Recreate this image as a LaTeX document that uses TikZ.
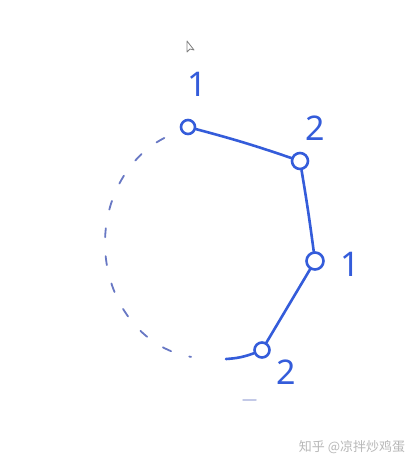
\documentclass[tikz,border=0pt]{standalone}
\usepackage{fontspec}
\setmainfont{Noto Sans}
\newfontfamily\cjk{Noto Sans CJK SC}
\definecolor{inkblue}{RGB}{52,92,218}
\definecolor{paleblue}{RGB}{104,120,196}
\begin{document}
\begin{tikzpicture}[x=1pt, y=-1pt, line join=round, line cap=round, >=stealth,
	vert/.style={draw=inkblue, line width=2.6pt, circle, minimum size=16pt, inner sep=0pt},
	edge/.style={draw=inkblue, line width=2.6pt},
	num/.style={text=inkblue, font=\fontsize{34}{34}\selectfont}]
			\useasboundingbox[fill=white] (0,0) rectangle (419,469);
			% cursor
			\draw[gray, line width=0.8pt, fill=white] (187,41)--(187,52)--(190,49)--(194,50)--cycle;
			% vertices
			\node[vert, minimum size=14pt] (a) at (188,127) {};
			\node[vert] (b) at (300,161) {};
			\node[vert, minimum size=17pt] (c) at (315,261) {};
			\node[vert, minimum size=15pt] (d) at (262,350) {};
			\node[num] (la) at (197,84) {1};
			\node[num] (lb) at (315,128) {2};
			\node[num] (lc) at (350,264) {1};
			\node[num] (ld) at (286,372) {2};
			\draw[edge] (a) to[bend left=2] (b);
			\draw[edge] (b) to[bend left=1] (c);
			\draw[edge] (c)--(d);
			% dashed rest of the ring
			\coordinate (e) at (226,359);
			\draw[edge] (d) to[bend left=8] (e);
			\draw[paleblue, line width=1.8pt, dash pattern=on 9pt off 19pt, smooth, domain=114:262, samples=60]
				plot ({205+100*cos(\x)}, {243-115*sin(\x)});
			\draw[paleblue!40, line width=1.5pt] (243,400)--(256,400);
			\node[text=black!28, font=\cjk\fontsize{13}{13}\selectfont] (mark) at (352,447) {知乎 @凉拌炒鸡蛋};
		\end{tikzpicture}
\end{document}
